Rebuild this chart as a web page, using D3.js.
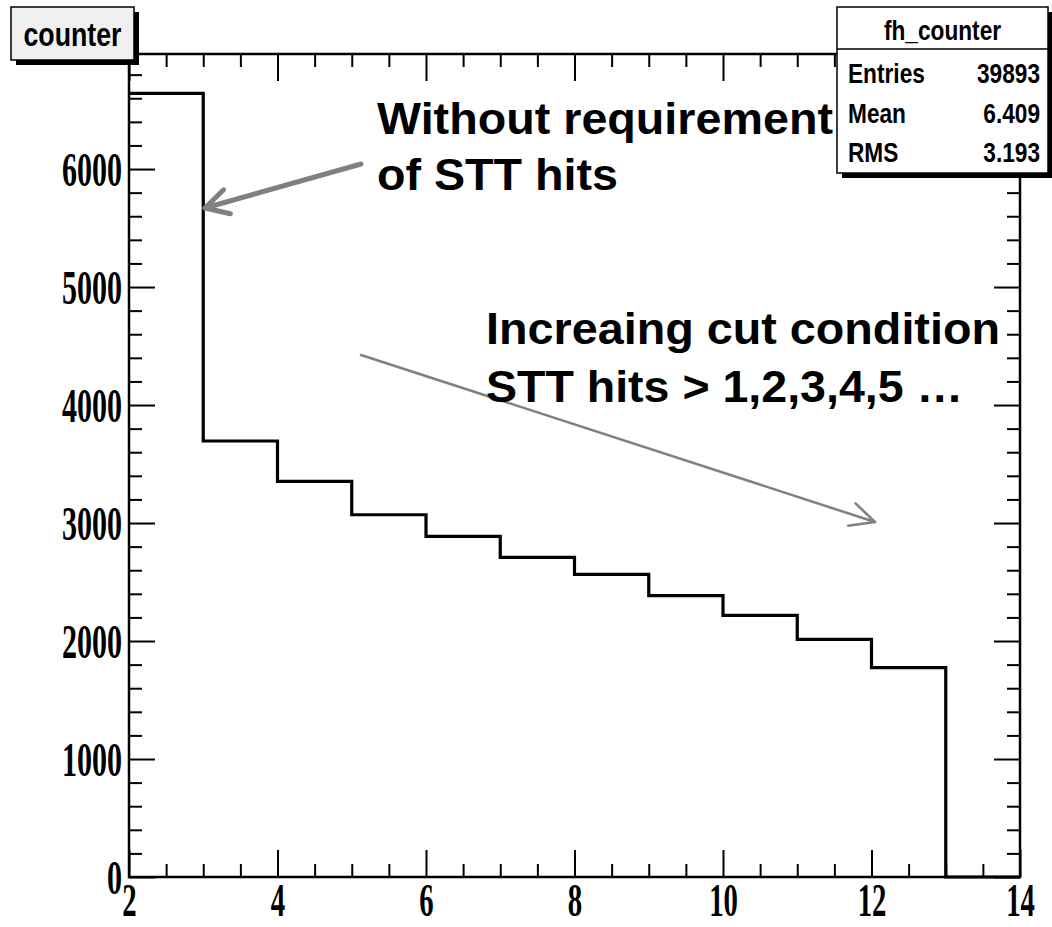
<!DOCTYPE html>
<html>
<head>
<meta charset="utf-8">
<script src="https://cdn.jsdelivr.net/npm/d3@7/dist/d3.min.js"></script>
<style>
  html, body { margin: 0; padding: 0; background: #fff; }
  svg { display: block; }
</style>
</head>
<body>
<script>
// ---- data ----
const binLow = [2, 3, 4, 5, 6, 7, 8, 9, 10, 11, 12, 13];
const counts = [6641, 3695, 3353, 3070, 2887, 2709, 2565, 2384, 2218, 2014, 1774, 0];
const xTicks = [2, 4, 6, 8, 10, 12, 14];
const yTicks = [0, 1000, 2000, 3000, 4000, 5000, 6000];
const histTitle = "counter";
const statsName = "fh_counter";
const statsLabels = ["Entries", "Mean", "RMS"];
const statsValues = ["39893", "6.409", "3.193"];
const note1 = ["Without requirement", "of STT hits"];
const note2 = ["Increaing cut condition", "STT hits > 1,2,3,4,5 \u2026"];

// ---- layout ----
const W = 1052, H = 927;
const L = 129, R = 1020, T = 54, B = 877;
const svg = d3.select("body").append("svg").attr("width", W).attr("height", H);

const x = d3.scaleLinear().domain([2, 14]).range([L, R]);
const y = d3.scaleLinear().domain([0, 6975]).range([B, T]);

const serif = "'Liberation Serif','Times New Roman',serif";
const sans = "'Liberation Sans',Arial,Helvetica,sans-serif";
const sxTick = 0.625, sxStat = 0.81;

const yMinor = d3.range(0, 7000, 200).filter(v => v % 1000 !== 0 && y(v) > T);
const xMinor = d3.range(2, 14, 0.5).filter(v => v % 2 !== 0);

function styleAxis(g) {
  g.select(".domain").remove();
  g.selectAll(".tick line").attr("stroke", "#000").attr("stroke-width", 2);
}

// minor ticks
svg.append("g").attr("transform", `translate(${L},0)`)
  .call(d3.axisLeft(y).tickValues(yMinor).tickSize(-13).tickFormat("")).call(styleAxis);
svg.append("g").attr("transform", `translate(${R},0)`)
  .call(d3.axisRight(y).tickValues(yMinor).tickSize(-13).tickFormat("")).call(styleAxis);
svg.append("g").attr("transform", `translate(0,${B})`)
  .call(d3.axisBottom(x).tickValues(xMinor).tickSize(-13).tickFormat("")).call(styleAxis);
svg.append("g").attr("transform", `translate(0,${T})`)
  .call(d3.axisTop(x).tickValues(xMinor).tickSize(-13).tickFormat("")).call(styleAxis);

// major ticks
const gl = svg.append("g").attr("transform", `translate(${L},0)`)
  .call(d3.axisLeft(y).tickValues(yTicks).tickSize(-26).tickPadding(7).tickFormat(d3.format("d")))
  .call(styleAxis);
gl.selectAll(".tick text")
  .attr("font-family", serif).attr("font-weight", "bold").attr("font-size", 48)
  .attr("fill", "#000")
  .attr("x", -7 / sxTick).attr("dy", "0.34em")
  .attr("transform", `scale(${sxTick},1)`);

svg.append("g").attr("transform", `translate(${R},0)`)
  .call(d3.axisRight(y).tickValues(yTicks).tickSize(-26).tickFormat("")).call(styleAxis);

const gb = svg.append("g").attr("transform", `translate(0,${B})`)
  .call(d3.axisBottom(x).tickValues(xTicks).tickSize(-27).tickPadding(6).tickFormat(d3.format("d")))
  .call(styleAxis);
gb.selectAll(".tick text")
  .attr("font-family", serif).attr("font-weight", "bold").attr("font-size", 46)
  .attr("fill", "#000")
  .attr("transform", `scale(${sxTick},1)`);

svg.append("g").attr("transform", `translate(0,${T})`)
  .call(d3.axisTop(x).tickValues(xTicks).tickSize(-27).tickFormat("")).call(styleAxis);

// frame
svg.append("rect").attr("x", L).attr("y", T).attr("width", R - L).attr("height", B - T)
  .attr("fill", "none").attr("stroke", "#000").attr("stroke-width", 2.5);

// histogram
const pts = binLow.map((b, i) => [b, counts[i]]);
pts.push([binLow[binLow.length - 1] + 1, counts[counts.length - 1]]);
const line = d3.line().x(d => x(d[0])).y(d => y(d[1])).curve(d3.curveStepAfter);
svg.append("path").datum(pts).attr("d", line)
  .attr("fill", "none").attr("stroke", "#000").attr("stroke-width", 3.2)
  .attr("stroke-linejoin", "miter");

// title box
const tb = {x: 11, y: 7, w: 123, h: 53};
svg.append("rect").attr("x", tb.x + 5).attr("y", tb.y + 5).attr("width", tb.w).attr("height", tb.h).attr("fill", "#000");
svg.append("rect").attr("x", tb.x).attr("y", tb.y).attr("width", tb.w).attr("height", tb.h)
  .attr("fill", "#f0f0f0").attr("stroke", "#000").attr("stroke-width", 1.5);
svg.append("text").text(histTitle)
  .attr("x", (tb.x + tb.w / 2) / sxStat).attr("y", 46)
  .attr("text-anchor", "middle").attr("transform", `scale(${sxStat},1)`)
  .attr("font-family", sans).attr("font-weight", "bold").attr("font-size", 33).attr("fill", "#000");

// stats box
const sb = {x: 837, y: 7, w: 211, h: 166, hdr: 42};
svg.append("rect").attr("x", sb.x + 5).attr("y", sb.y + 5).attr("width", sb.w).attr("height", sb.h).attr("fill", "#000");
svg.append("rect").attr("x", sb.x).attr("y", sb.y).attr("width", sb.w).attr("height", sb.h)
  .attr("fill", "#fff").attr("stroke", "#000").attr("stroke-width", 1.5);
svg.append("line").attr("x1", sb.x).attr("x2", sb.x + sb.w).attr("y1", sb.y + sb.hdr).attr("y2", sb.y + sb.hdr)
  .attr("stroke", "#000").attr("stroke-width", 1.5);
const statText = (t, xx, yy, anchor) => svg.append("text").text(t)
  .attr("x", xx / sxStat).attr("y", yy).attr("text-anchor", anchor)
  .attr("transform", `scale(${sxStat},1)`)
  .attr("font-family", sans).attr("font-weight", "bold").attr("font-size", 28).attr("fill", "#000");
statText(statsName, sb.x + sb.w / 2, 40, "middle");
const rowY = [83, 123, 162];
statsLabels.forEach((s, i) => statText(s, 848, rowY[i], "start"));
statsValues.forEach((s, i) => statText(s, 1040, rowY[i], "end"));

// annotations
const gray = "#808080";
function arrow(x1, y1, x2, y2, w, headLen, headAng) {
  svg.append("line").attr("x1", x1).attr("y1", y1).attr("x2", x2).attr("y2", y2)
    .attr("stroke", gray).attr("stroke-width", w).attr("stroke-linecap", "round");
  const a = Math.atan2(y1 - y2, x1 - x2);
  const p1 = [x2 + headLen * Math.cos(a + headAng), y2 + headLen * Math.sin(a + headAng)];
  const p2 = [x2 + headLen * Math.cos(a - headAng), y2 + headLen * Math.sin(a - headAng)];
  svg.append("polyline").attr("points", `${p1} ${x2},${y2} ${p2}`)
    .attr("fill", "none").attr("stroke", gray).attr("stroke-width", w)
    .attr("stroke-linecap", "round").attr("stroke-linejoin", "round");
}
arrow(361, 164, 205, 208, 5, 26, 0.5);
arrow(361, 355, 875, 522, 2.5, 27, 0.45);

const noteText = (t, xx, yy, len) => svg.append("text").text(t)
  .attr("x", xx).attr("y", yy)
  .attr("textLength", len).attr("lengthAdjust", "spacingAndGlyphs")
  .attr("font-family", sans).attr("font-weight", "bold").attr("font-size", 44).attr("fill", "#000");
noteText(note1[0], 377, 134, 456);
noteText(note1[1], 377, 190, 241);
noteText(note2[0], 486, 344, 514);
noteText(note2[1], 486, 402, 477);
</script>
</body>
</html>
